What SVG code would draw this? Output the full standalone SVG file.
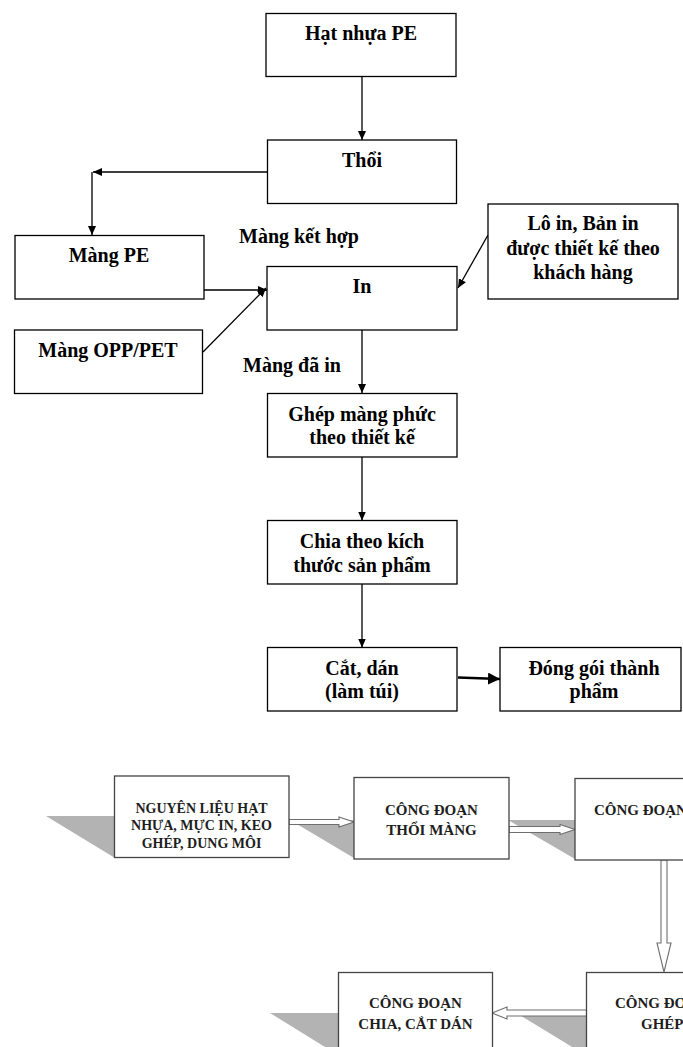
<svg xmlns="http://www.w3.org/2000/svg" width="683" height="1047" viewBox="0 0 683 1047">
<style>
.box{fill:#fff;stroke:#000;stroke-width:1.3}
.t{font-family:"Liberation Serif","Times New Roman",serif;font-weight:bold;font-size:20px;fill:#000;text-anchor:middle}
.ln{fill:none;stroke:#000;stroke-width:1.3;marker-end:url(#ah)}
.bx{fill:#fff;stroke:#444;stroke-width:1.3}
.bt{font-family:"Liberation Serif","Times New Roman",serif;font-weight:bold;font-size:14px;fill:#1e1e1e;text-anchor:middle}
.bt2{font-size:15px}
.sh{fill:#b3b3b3;stroke:none}
.ha{fill:#fff;stroke:#6e6e6e;stroke-width:1.1}
</style>
<defs>
<marker id="ah" markerUnits="userSpaceOnUse" markerWidth="10" markerHeight="10" refX="9" refY="4" orient="auto">
<path d="M0,0 L9,4 L0,8 Z" fill="#000"/>
</marker>
<marker id="ahb" markerUnits="userSpaceOnUse" markerWidth="14" markerHeight="14" refX="12" refY="6" orient="auto">
<path d="M0,0 L12,6 L0,12 Z" fill="#000"/>
</marker>
</defs>
<rect width="683" height="1047" fill="#fff"/>

<g id="connectors">
<line class="ln" x1="362" y1="77" x2="362" y2="140"/>
<line class="ln" x1="267" y1="172" x2="93" y2="172"/>
<line class="ln" x1="92" y1="172" x2="92" y2="235"/>
<line class="ln" x1="204" y1="290" x2="267" y2="290"/>
<line class="ln" x1="203" y1="352" x2="266" y2="288"/>
<line class="ln" x1="488" y1="235" x2="458" y2="288"/>
<line class="ln" x1="362" y1="330" x2="362" y2="393"/>
<line class="ln" x1="362" y1="457" x2="362" y2="520.5"/>
<line class="ln" x1="362" y1="584" x2="362" y2="647.5"/>
<line x1="458" y1="677.5" x2="500" y2="679" stroke="#000" stroke-width="2.6" marker-end="url(#ahb)"/>
</g>

<g id="label-mang-ket-hop"><text class="t" x="299" y="243">Màng kết hợp</text></g>
<g id="label-mang-da-in"><text class="t" x="292" y="371.5">Màng đã in</text></g>

<g id="n-hat-nhua"><rect class="box" x="266" y="13.5" width="190" height="63"/><text class="t" x="361" y="40">Hạt nhựa PE</text></g>
<g id="n-thoi"><rect class="box" x="267.5" y="140" width="189" height="63.5"/><text class="t" x="362" y="166.5">Thổi</text></g>
<g id="n-mang-pe"><rect class="box" x="15" y="235.5" width="189" height="63.5"/><text class="t" x="109" y="261.5">Màng PE</text></g>
<g id="n-in"><rect class="box" x="267" y="266.5" width="190" height="63.5"/><text class="t" x="362" y="293">In</text></g>
<g id="n-lo-in"><rect class="box" x="488" y="204" width="190" height="95"/><text class="t" x="583" y="230">Lô in, Bản in</text><text class="t" x="583" y="254.5">được thiết kế theo</text><text class="t" x="583" y="278.5">khách hàng</text></g>
<g id="n-opp"><rect class="box" x="14.5" y="330" width="188" height="63.5"/><text class="t" x="108" y="356.5">Màng OPP/PET</text></g>
<g id="n-ghep"><rect class="box" x="267.5" y="393.5" width="189.5" height="63.5"/><text class="t" x="362" y="420.5">Ghép màng phức</text><text class="t" x="362" y="444">theo thiết kế</text></g>
<g id="n-chia"><rect class="box" x="267.5" y="520.5" width="189.5" height="63.5"/><text class="t" x="362" y="548">Chia theo kích</text><text class="t" x="362" y="571.5">thước sản phẩm</text></g>
<g id="n-cat"><rect class="box" x="267.5" y="647.5" width="189.5" height="63.5"/><text class="t" x="362" y="675">Cắt, dán</text><text class="t" x="362" y="698">(làm túi)</text></g>
<g id="n-dong-goi"><rect class="box" x="500" y="647.5" width="181" height="63.5"/><text class="t" x="594" y="675">Đóng gói thành</text><text class="t" x="594" y="698">phẩm</text></g>

<g id="shadows">
<polygon class="sh" points="46,816 115,816 115,858"/>
<polygon class="sh" points="290,820 354,820 354,858"/>
<polygon class="sh" points="508,820 575,820 575,859"/>
<polygon class="sh" points="518,1014 587,1014 587,1056"/>
<polygon class="sh" points="270,1013 338,1013 338,1055"/>
</g>

<g id="flow-arrows">
<polygon class="ha" points="289,819.5 339,819.5 339,817 354,822 339,827 339,824.5 289,824.5"/>
<polygon class="ha" points="509,826.5 560,826.5 560,824.5 575,829.5 560,834.5 560,832.5 509,832.5"/>
<polygon class="ha" points="661,860 667,860 667,943 671,943 664,972 657,943 661,943"/>
<polygon class="ha" points="587,1010 507,1010 507,1007 492,1013 507,1019 507,1016 587,1016"/>
</g>

<g id="s-nguyen-lieu"><rect class="bx" x="114.5" y="776" width="174.5" height="81.5"/><text class="bt" x="201.5" y="812.5">NGUYÊN LIỆU HẠT</text><text class="bt" x="201.5" y="830">NHỰA, MỰC IN, KEO</text><text class="bt" x="201.5" y="847.5">GHÉP, DUNG MÔI</text></g>
<g id="s-thoi-mang"><rect class="bx" x="354" y="777.5" width="155" height="81.5"/><text class="bt bt2" x="431.5" y="815">CÔNG ĐOẠN</text><text class="bt bt2" x="431.5" y="835">THỔI MÀNG</text></g>
<g id="s-in"><rect class="bx" x="575" y="778.5" width="120" height="81.5"/><text class="bt bt2" x="594" y="815" style="text-anchor:start">CÔNG ĐOẠN</text></g>
<g id="s-ghep"><rect class="bx" x="586.5" y="972.5" width="120" height="90"/><text class="bt bt2" x="615" y="1008" style="text-anchor:start">CÔNG ĐOẠN</text><text class="bt bt2" x="641" y="1029" style="text-anchor:start">GHÉP</text></g>
<g id="s-chia-cat"><rect class="bx" x="338.5" y="972.5" width="154" height="90"/><text class="bt bt2" x="415.5" y="1008">CÔNG ĐOẠN</text><text class="bt bt2" x="415.5" y="1029">CHIA, CẮT DÁN</text></g>
</svg>
